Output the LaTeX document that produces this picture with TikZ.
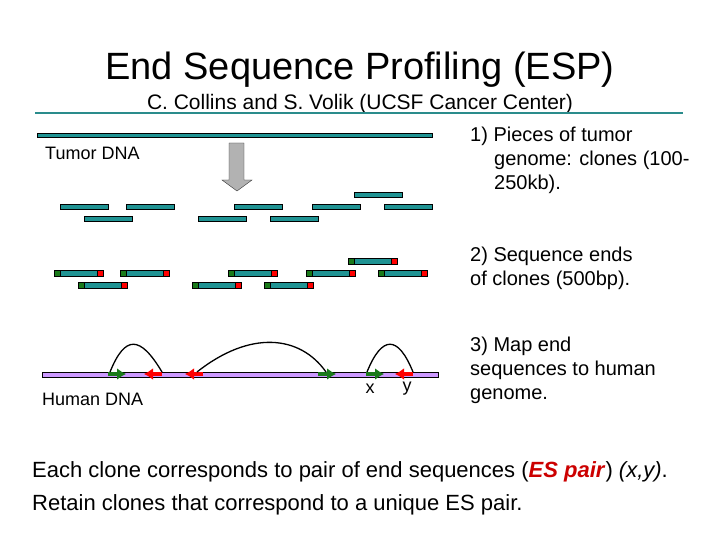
\documentclass[tikz,border=0pt]{standalone}
\usepackage{fontspec}
\setmainfont{Liberation Sans}
\usetikzlibrary{arrows.meta}
\definecolor{teal1}{HTML}{1F9393}
\definecolor{dgreen}{HTML}{1A7A1A}
\definecolor{lav}{HTML}{CC99FF}
\definecolor{rule}{HTML}{2A8C8C}
\begin{document}
\begin{tikzpicture}[x=1pt,y=-1pt,
 clone/.style={draw=black,fill=teal1,line width=0.8pt},
 lbl/.style={anchor=west,inner sep=0pt,font=\fontsize{20}{24}\selectfont,align=left},
 garr/.style={draw=dgreen,line width=4pt,-{Latex[length=9pt,width=12pt]}},
 rarr/.style={draw=red,line width=4pt,-{Latex[length=9pt,width=12pt]}},
 arc/.style={draw=black,line width=1.3pt}]
\useasboundingbox (0,0) rectangle (720,540);
\node (title) at (360,70) {\fontsize{38}{44}\selectfont End Sequence Profiling (ESP)};
\node (sub) at (360,104) {\fontsize{21}{24}\selectfont C. Collins and S. Volik (UCSF Cancer Center)};
\draw[rule,line width=2.5pt] (35,113) -- (683,113);
% tumor
\draw[clone] (37,133) rectangle (432,137);
\node[lbl,font=\fontsize{18}{20}\selectfont] (tum) at (45,153) {Tumor DNA};
\draw[fill=gray!60,draw=gray!40!black] (229,143) -- (244,143) -- (244,180) -- (252,180) -- (237,191) -- (222,180) -- (229,180) -- cycle;
\foreach \a/\y in {60/207,126/207,234/207,312/207,384/207,84/219,198/219,270/219,354/195}
  \draw[clone] (\a,\y-2.5) rectangle (\a+48,\y+2.5);
% ends
\foreach \a/\y in {54/273,120/273,228/273,306/273,378/273,78/285,192/285,264/285,348/261}{
  \draw[clone] (\a,\y-3) rectangle (\a+49,\y+3);
  \draw[fill=dgreen,line width=0.8pt] (\a,\y-3) rectangle (\a+6,\y+3);
  \draw[fill=red,line width=0.8pt] (\a+43,\y-3) rectangle (\a+49,\y+3);}
% human
\draw[fill=lav,line width=0.6pt] (42,372.5) rectangle (438,377.5);
\node[lbl,font=\fontsize{18}{20}\selectfont] (hum) at (42,399) {Human DNA};
\draw[garr] (108,374) -- (126,374);
\draw[rarr] (162,374) -- (144,374);
\draw[rarr] (203,374) -- (185,374);
\draw[garr] (318,374) -- (336,374);
\draw[garr] (366,374) -- (384,374);
\draw[rarr] (413,374) -- (395,374);
\draw[arc] (110,372) .. controls (125,335) and (140,335) .. (162,372);
\draw[arc] (197,372) .. controls (250,330) and (300,335) .. (326,372);
\draw[arc] (367,372) .. controls (382,335) and (398,335) .. (413,372);
\node (x) at (370,389) {\fontsize{18}{20}\selectfont x};
\node (y) at (407,389) {\fontsize{18}{20}\selectfont y};
% right labels
\node[lbl] (l1) at (470,160) {1)\ Pieces of tumor\\\hspace{1.2em}genome: clones (100-\\\hspace{1.2em}250kb).};
\node[lbl] (l2) at (470,268) {2) Sequence ends\\of clones (500bp).};
\node[lbl] (l3) at (470,370) {3) Map end\\sequences to human\\genome.};
\node[anchor=west,inner sep=0pt] (b1) at (32,472) {\fontsize{22}{26}\selectfont Each clone corresponds to pair of end sequences (\textcolor{red!80!black}{\textbf{\textit{ES pair}}}) \textit{(x,y)}.};
\node[anchor=west,inner sep=0pt] (b2) at (32,505) {\fontsize{22}{26}\selectfont Retain clones that correspond to a unique ES pair.};
\end{tikzpicture}
\end{document}
